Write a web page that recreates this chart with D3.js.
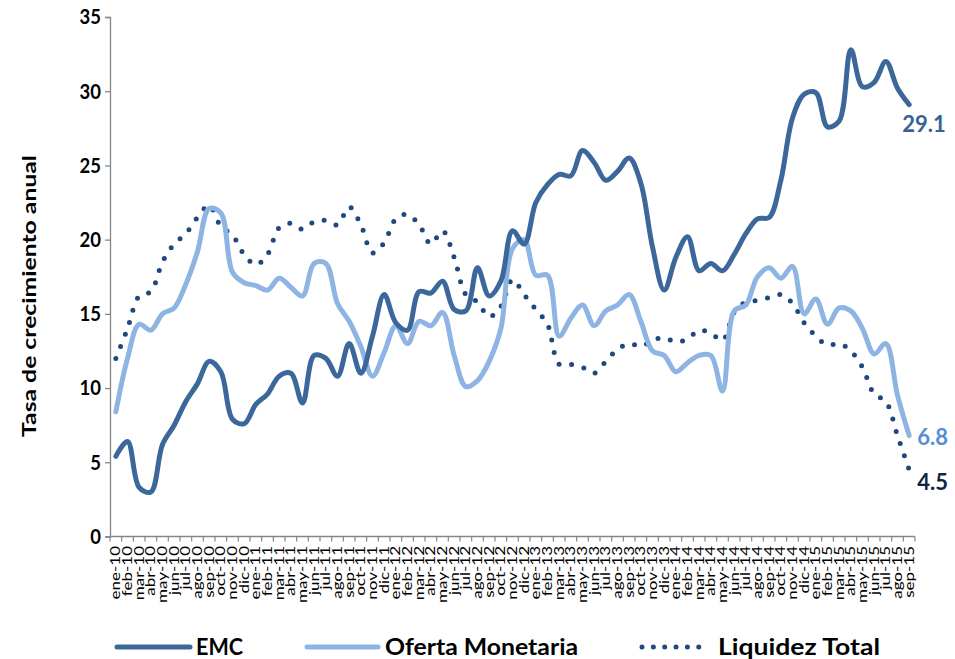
<!DOCTYPE html>
<html><head><meta charset="utf-8">
<script src="https://cdn.jsdelivr.net/npm/d3@7"></script>
<style>body{margin:0;background:#fff}svg{display:block}</style>
</head><body>
<svg id="c" width="955" height="659"></svg>
<script>
const months = ["ene-10","feb-10","mar-10","abr-10","may-10","jun-10","jul-10","ago-10","sep-10","oct-10","nov-10","dic-10",
"ene-11","feb-11","mar-11","abr-11","may-11","jun-11","jul-11","ago-11","sep-11","oct-11","nov-11","dic-11",
"ene-12","feb-12","mar-12","abr-12","may-12","jun-12","jul-12","ago-12","sep-12","oct-12","nov-12","dic-12",
"ene-13","feb-13","mar-13","abr-13","may-13","jun-13","jul-13","ago-13","sep-13","oct-13","nov-13","dic-13",
"ene-14","feb-14","mar-14","abr-14","may-14","jun-14","jul-14","ago-14","sep-14","oct-14","nov-14","dic-14",
"ene-15","feb-15","mar-15","abr-15","may-15","jun-15","jul-15","ago-15","sep-15"];

const emc = [5.4,6.4,3.3,3.0,6.2,7.5,9.1,10.3,11.8,11.1,7.9,7.6,
8.9,9.6,10.8,11.0,9.0,12.2,12.0,10.8,13.0,11.0,13.5,16.3,
14.4,13.9,16.5,16.4,17.2,15.3,15.2,18.1,16.2,17.2,20.6,19.7,
22.5,23.7,24.4,24.3,26.0,25.2,24.0,24.6,25.5,23.8,19.5,16.6,
18.8,20.2,17.9,18.4,17.9,19.0,20.4,21.4,21.5,24.0,28.2,29.8,
29.9,27.6,28.0,32.8,30.3,30.6,32.0,30.2,29.1];

const oferta = [8.4,12.0,14.3,13.9,15.0,15.4,17.0,19.2,22.1,21.8,17.8,17.1,
16.9,16.6,17.4,16.8,16.2,18.4,18.4,15.7,14.5,12.8,10.8,12.4,
14.2,13.0,14.5,14.2,15.1,12.2,10.1,10.5,11.8,14.0,19.4,20.0,
17.6,17.6,13.5,14.7,15.6,14.2,15.2,15.6,16.3,14.5,12.5,12.2,
11.1,11.7,12.2,12.2,9.8,15.2,15.6,17.5,18.1,17.4,18.2,15.0,
16.0,14.3,15.4,15.2,14.0,12.3,13.0,9.5,6.8];

const liquidez = [12.0,14.0,16.2,16.5,18.5,19.7,20.4,21.5,22.3,20.9,20.3,19.0,
18.3,19.0,20.8,21.1,20.7,21.2,21.3,21.0,22.2,21.0,19.1,19.8,
21.4,21.7,21.0,19.7,20.6,18.8,16.3,15.8,14.8,15.5,17.3,16.3,
15.3,14.3,11.6,11.6,11.4,11.0,11.8,12.6,13.0,12.8,13.2,13.4,
13.1,13.3,13.9,13.7,13.2,15.1,15.8,15.9,16.1,16.3,15.7,14.4,
13.5,12.9,13.0,12.5,11.4,9.6,9.1,6.8,4.5];

const yTicks = [0,5,10,15,20,25,30,35];
const seriesNames = ["EMC","Oferta Monetaria","Liquidez Total"];
const yTitle = "Tasa de crecimiento anual";

const C_EMC = "#3C679B", C_OF = "#8DB4E2", C_LIQ = "#1F497D";

const svg = d3.select("#c");
const x = d3.scaleBand().domain(months).range([110, 915]).paddingInner(0).paddingOuter(0);
const bw = x.bandwidth();
const y = d3.scaleLinear().domain([0, 35]).range([536.5, 17]);
const cx = d => x(d) + bw / 2;

// Y axis
const yAxis = d3.axisLeft(y).tickValues(yTicks).tickSize(5).tickFormat(d3.format("d"));
const ga = svg.append("g").attr("transform", "translate(110,0)").call(yAxis);
ga.select(".domain").attr("stroke", "#868686").attr("stroke-width", 1.3);
ga.selectAll(".tick line").attr("stroke", "#868686").attr("stroke-width", 1.3);
ga.selectAll(".tick text").attr("x", -9).attr("font-family", "Lato").attr("font-weight", "bold")
  .attr("font-size", 18.5).attr("fill", "#000").attr("transform", "scale(1,1.15)");

// X axis
svg.append("line").attr("x1", x.range()[0]).attr("x2", x.range()[1]).attr("y1", y(0)).attr("y2", y(0))
  .attr("stroke", "#868686").attr("stroke-width", 1.3);
const bounds = months.map(m => x(m)).concat([x.range()[1]]);
svg.append("g").selectAll("line").data(bounds).join("line")
  .attr("x1", d => d).attr("x2", d => d).attr("y1", y(0)).attr("y2", y(0) + 5)
  .attr("stroke", "#868686").attr("stroke-width", 1.2);
svg.append("g").selectAll("text").data(months).join("text")
  .attr("transform", d => `translate(${cx(d)},546) rotate(-90) scale(1.36,1)`)
  .attr("text-anchor", "end").attr("dy", "0.36em")
  .attr("font-family", "Lato").attr("font-size", 12.5).attr("fill", "#000")
  .text(d => d);

// Y title
svg.append("text").attr("transform", "translate(30,296) rotate(-90)")
  .attr("text-anchor", "middle").attr("dy", "0.36em")
  .attr("font-family", "Lato").attr("font-weight", "bold").attr("font-size", 18)
  .attr("textLength", 282).attr("lengthAdjust", "spacingAndGlyphs")
  .text(yTitle);

// Lines
const line = vals => d3.line().x((d, i) => cx(months[i])).y(d => y(d)).curve(d3.curveCatmullRom.alpha(0.5))(vals);
svg.append("path").attr("d", line(liquidez)).attr("fill", "none").attr("stroke", C_LIQ)
  .attr("stroke-width", 5).attr("stroke-linecap", "round").attr("stroke-dasharray", "0 12.8");
svg.append("path").attr("d", line(oferta)).attr("fill", "none").attr("stroke", C_OF)
  .attr("stroke-width", 5).attr("stroke-linecap", "round").attr("stroke-linejoin", "round");
svg.append("path").attr("d", line(emc)).attr("fill", "none").attr("stroke", C_EMC)
  .attr("stroke-width", 5).attr("stroke-linecap", "round").attr("stroke-linejoin", "round");

// End labels
const last = months.length - 1;
const endLabels = [
  {v: emc[last], dx: -7, dy: 20, c: "#3A6196"},
  {v: oferta[last], dx: 8, dy: 2, c: "#558ED5"},
  {v: liquidez[last], dx: 8, dy: 12, c: "#10253F"}
];
svg.append("g").selectAll("text").data(endLabels).join("text")
  .attr("x", d => cx(months[last]) + d.dx).attr("y", d => y(d.v) + d.dy).attr("dy", "0.36em")
  .attr("font-family", "Lato").attr("font-weight", "bold").attr("font-size", 22).attr("fill", d => d.c)
  .text(d => d3.format(".1f")(d.v));

// Legend
const legend = [
  {name: seriesNames[0], x1: 117, x2: 190, tx: 196, tw: 47, c: C_EMC, dash: null},
  {name: seriesNames[1], x1: 307, x2: 378, tx: 385, tw: 193, c: C_OF, dash: null},
  {name: seriesNames[2], x1: 642, x2: 710, tx: 718, tw: 162, c: C_LIQ, dash: "0 11.35"}
];
const lg = svg.append("g").selectAll("g").data(legend).join("g");
lg.append("line").attr("x1", d => d.x1).attr("x2", d => d.x2).attr("y1", 647).attr("y2", 647)
  .attr("stroke", d => d.c).attr("stroke-width", 5).attr("stroke-linecap", "round")
  .attr("stroke-dasharray", d => d.dash);
lg.append("text").attr("x", d => d.tx).attr("y", 647).attr("dy", "0.36em")
  .attr("font-family", "Lato").attr("font-weight", "bold").attr("font-size", 23).attr("fill", "#000")
  .attr("textLength", d => d.tw).attr("lengthAdjust", "spacingAndGlyphs")
  .text(d => d.name);
</script>
</body></html>
